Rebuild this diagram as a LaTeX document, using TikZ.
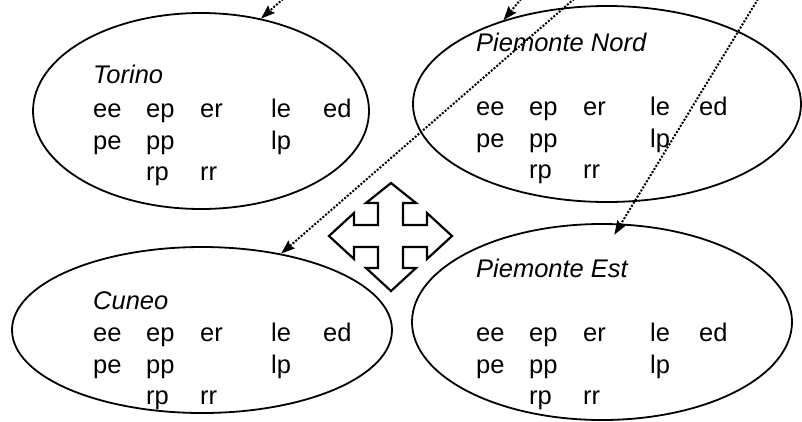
\documentclass[tikz,border=0pt]{standalone}
\usepackage{fontspec}
\setmainfont{Liberation Sans}
\usetikzlibrary{shapes.geometric,arrows.meta}

\newcommand\regtext[7]{% #1 id, #2 x, #3 title y, #4 title, #5 row1 y, #6 le offset, #7 ed offset
  \node[regtitle] (#1-title) at (#2,#3) {#4};
  \node[lbl] (#1-ee) at (#2,#5) {ee};
  \node[lbl] (#1-ep) at ({#2+53},#5) {ep};
  \node[lbl] (#1-er) at ({#2+107},#5) {er};
  \node[lbl] (#1-le) at ({#2+#6},#5) {le};
  \node[lbl] (#1-ed) at ({#2+#7},#5) {ed};
  \node[lbl] (#1-pe) at (#2,{#5+32}) {pe};
  \node[lbl] (#1-pp) at ({#2+53},{#5+32}) {pp};
  \node[lbl] (#1-lp) at ({#2+#6},{#5+32}) {lp};
  \node[lbl] (#1-rp) at ({#2+53},{#5+63}) {rp};
  \node[lbl] (#1-rr) at ({#2+107},{#5+63}) {rr};
}

\begin{document}
\begin{tikzpicture}[x=1pt,y=-1pt,
  region/.style={ellipse,draw,line width=1.8pt,inner sep=0pt,fill=none},
  lbl/.style={anchor=base west,inner sep=0pt,font=\fontsize{25.5}{30}\selectfont},
  regtitle/.style={anchor=base west,inner sep=0pt,font=\fontsize{25.5}{30}\selectfont\itshape},
  link/.style={line width=2pt,dash pattern=on 2pt off 1.6pt,-{Stealth[length=14pt,width=10pt,inset=2pt]}},
  crossarrow/.style={draw,line width=2.2pt,line join=miter,fill=white}]

\fill[white] (0,0) rectangle (802,421);
\useasboundingbox (0,0) rectangle (802,421);

% regions
\node[region,minimum width=336pt,minimum height=196pt] (torino) at (201,111) {};
\node[region,minimum width=388pt,minimum height=196pt] (pnord) at (607,104) {};
\node[region,minimum width=380pt,minimum height=166pt] (cuneo) at (202,330) {};
\node[region,minimum width=380pt,minimum height=196pt] (pest) at (602,322) {};

% texts
\regtext{t}{93}{83}{Torino}{117}{178}{230}
\regtext{n}{476}{51}{Piemonte Nord}{115}{174}{223}
\regtext{c}{93}{309}{Cuneo}{341}{178}{230}
\regtext{e}{476}{277}{Piemonte Est}{341}{174}{223}

% dotted arrows
\coordinate (s1) at (283,-1);
\coordinate (s2) at (521,-1);
\coordinate (s3) at (574,-1);
\coordinate (s4) at (758,-1);
\draw[link] (s1) -- (torino.57.6);
\draw[link] (s2) -- (pnord.141.9);
\draw[link] (s3) -- (cuneo.44.3);
\draw[link,shorten >=-13pt] (s4) -- (pest.79.3);

% four-way arrow
\draw[crossarrow] (391,183) -- (416,203) -- (403,203) -- (403,225) -- (427,225) -- (427,213)
  -- (452,236) -- (427,259) -- (427,247) -- (403,247) -- (403,268) -- (416,268)
  -- (391,291) -- (366,268) -- (378,268) -- (378,247) -- (354,247) -- (354,259)
  -- (329,236) -- (354,213) -- (354,225) -- (378,225) -- (378,203) -- (366,203) -- cycle;
\end{tikzpicture}
\end{document}
